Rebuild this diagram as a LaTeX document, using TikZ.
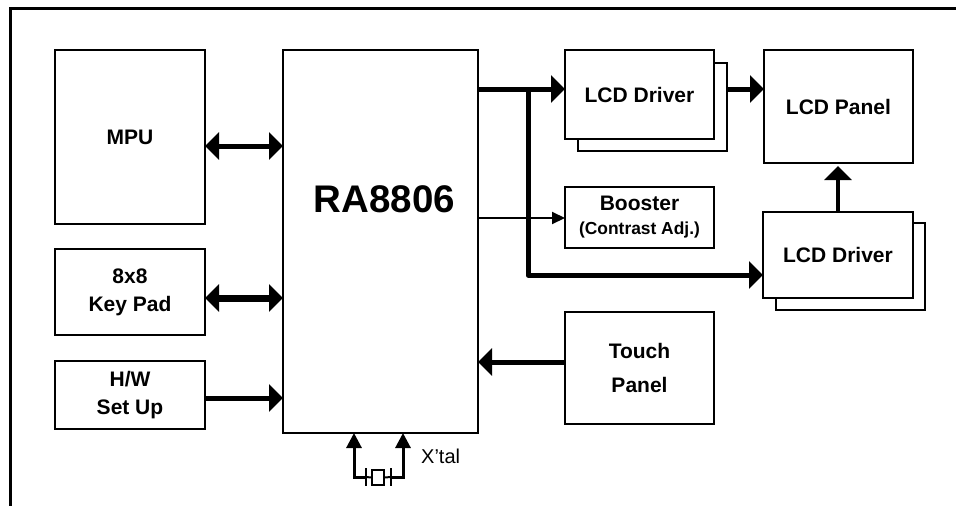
\documentclass[tikz,border=0pt]{standalone}
\usepackage{fontspec}
\setmainfont{Liberation Sans}
\usetikzlibrary{arrows.meta,calc}
\begin{document}
\begin{tikzpicture}[x=1pt,y=-1pt,
  box/.style={draw, line width=1.6pt, fill=white, anchor=north west, inner sep=0pt, outer sep=0pt, align=center, font=\bfseries\fontsize{21}{28}\selectfont},
  bighead/.style={-{Triangle[length=14pt,width=27pt]}},
  big/.style={line width=5pt, bighead},
  bigboth/.style={line width=#1, {Triangle[length=14pt,width=27pt]}-{Triangle[length=14pt,width=27pt]}},
  thinarr/.style={line width=2pt, -{Triangle[length=13pt,width=12pt]}},
  xarr/.style={line width=3pt, line join=miter, -{Triangle[length=15pt,width=15pt]}},
]
\useasboundingbox (0,0) rectangle (956,506);
\draw[line width=3pt] (10,506) -- (10,8) -- (956,8);

% left column
\node[box, minimum width=150pt, minimum height=174pt] (mpu) at (55,50) {MPU};
\node[box, minimum width=150pt, minimum height=86pt] (keypad) at (55,249) {8x8\\Key Pad};
\node[box, minimum width=150pt, minimum height=68pt] (hw) at (55,361) {H/W\\Set Up};

% controller
\node[box, minimum width=195pt, minimum height=383pt] (ra) at (283,50) {};
\node[font=\bfseries\fontsize{38.5}{40}\selectfont, inner sep=0pt] (ratext) at (384.5,199) {RA8806};

% LCD driver 1 (stacked)
\node[box, minimum width=149pt, minimum height=88pt] (lcd1b) at (578,63) {};
\node[box, minimum width=149pt, minimum height=89pt] (lcd1) at (565,50) {LCD Driver};

% LCD panel
\node[box, minimum width=149pt, minimum height=113pt] (panel) at (764,50) {LCD Panel};

% Booster
\node[box, minimum width=149pt, minimum height=61pt] (booster) at (565,187) {Booster\\[-4pt]{\fontsize{17.4}{20}\selectfont(Contrast Adj.)}};

% LCD driver 2 (stacked)
\node[box, minimum width=149pt, minimum height=87pt] (lcd2b) at (776,223) {};
\node[box, minimum width=150pt, minimum height=86pt] (lcd2) at (763,212) {LCD Driver};

% Touch panel
\node[box, minimum width=149pt, minimum height=112pt, font=\bfseries\fontsize{21}{34}\selectfont] (touch) at (565,312) {Touch\\Panel};

% left arrows
\coordinate (m1) at ($(mpu.north east)+(0,96)$);
\draw[bigboth=5pt] (m1) -- (m1 -| ra.west);
\coordinate (k1) at ($(keypad.north east)+(0,49)$);
\draw[bigboth=7pt] (k1) -- (k1 -| ra.west);
\coordinate (h1) at ($(hw.north east)+(0,37)$);
\draw[big] (h1) -- (h1 -| ra.west);

% right arrows
\coordinate (a1) at ($(ra.north east)+(0,39)$);
\draw[big] (a1) -- (a1 -| lcd1.west);
\coordinate (bus) at ($(a1)+(50,0)$);
\coordinate (a3) at ($(lcd2.north west)+(0,63)$);
\draw[big, line join=round] (bus) -- (bus |- a3) -- (a3);
\coordinate (b1) at ($(booster.north west)+(0,31)$);
\draw[thinarr] (b1 -| ra.east) -- (b1);
\coordinate (p1) at ($(panel.north west)+(0,39)$);
\draw[big] (p1 -| lcd1b.east) -- (p1);
\coordinate (p2) at ($(lcd2.north |- panel.south)+(0,3)$);
\draw[line width=4pt, bighead] (lcd2.north) -- (p2);
\coordinate (t1) at ($(touch.north west)+(0,50)$);
\draw[big] (t1) -- (t1 -| ra.east);

% crystal
\node[draw, line width=1.5pt, minimum width=12pt, minimum height=15pt, inner sep=0pt] (xtal) at (378,477.5) {};
\coordinate (xl) at (366,477);
\coordinate (xr) at (391,477);
\draw[line width=2pt] (366,468) -- (366,486);
\draw[line width=2pt] (391,468) -- (391,486);
\draw[line width=2pt] (xl) -- (xtal.west);
\draw[line width=2pt] (xr) -- (xtal.east);
\coordinate (x1) at (354,477);
\coordinate (x2) at (403,477);
\draw[xarr] (xl) -- (x1) -- (x1 |- ra.south);
\draw[xarr] (xr) -- (x2) -- (x2 |- ra.south);
\node[anchor=west, inner sep=0pt, font=\fontsize{20}{24}\selectfont] (xt) at (421,456) {X’tal};
\end{tikzpicture}
\end{document}
